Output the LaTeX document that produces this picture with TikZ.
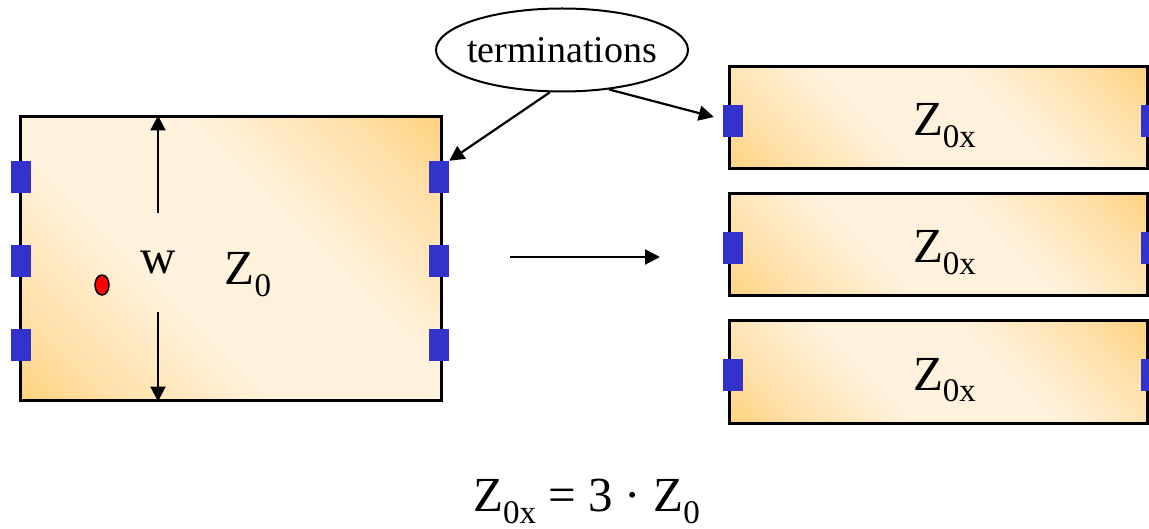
\documentclass[tikz,border=0pt]{standalone}
\usepackage{fontspec}
\setmainfont{Liberation Serif}
\usetikzlibrary{arrows.meta,shapes.geometric}
\definecolor{ColPad}{RGB}{51,51,204}
\definecolor{ColDark}{RGB}{255,204,105}
\definecolor{ColMid}{RGB}{255,224,168}
\definecolor{ColLight}{RGB}{255,242,220}
\definecolor{ColDot}{RGB}{255,0,0}
\pgfdeclareverticalshading{boardfill}{100bp}{color(0bp)=(ColDark); color(10bp)=(ColDark);
  color(24bp)=(ColMid); color(40bp)=(ColLight); color(60bp)=(ColLight);
  color(76bp)=(ColMid); color(90bp)=(ColDark); color(100bp)=(ColDark)}
\newcommand{\lowidx}[1]{\raisebox{-12pt}{\fontsize{33}{33}\selectfont #1}}

\begin{document}
\begin{tikzpicture}[
  x=1pt, y=-1pt,
  >={Triangle[length=15pt,width=15pt]},
  every node/.style={font=\fontsize{49}{49}\selectfont, inner sep=0pt},
  board/.style={draw, line width=3pt, rectangle, shading=boardfill, shading angle=-45},
  termpad/.style={fill=ColPad, minimum width=20pt, minimum height=32pt},
  lead/.style={->, line width=2.2pt}
]
  \useasboundingbox (0,0) rectangle (1149,529);

  % Wide line with its terminations
  \node[board, minimum width=421pt, minimum height=283pt] (big) at (230.5,258.5) {};
  \foreach \i/\yy in {1/177,2/261,3/345} {
    \node[termpad] (bl\i) at (21,\yy) {};
    \node[termpad] (br\i) at (439,\yy) {};
  }

  % Width marker
  \node[minimum height=99pt] (w) at (158,262.5) {w};
  \draw[lead] (w.north) -- (w.north |- big.north);
  \draw[lead] (w.south) -- (w.south |- big.south);

  \node[draw, fill=ColDot, ellipse, line width=1.5pt, minimum width=14pt,
    minimum height=20pt] (probe) at (102,285) {};
  \node[anchor=base] (zbig) at (248,285) {Z\lowidx{0}};

  % Three narrow lines
  \foreach \i/\yy in {1/118,2/245,3/372} {
    \node[board, minimum width=418pt, minimum height=102pt] (s\i) at (938,\yy) {};
    \node[termpad] (sl\i) at (733,\yy+3) {};
    \node[termpad] (sr\i) at (1151,\yy+3) {};
    \node[anchor=base] (zs\i) at (944.5,\yy+18) {Z\lowidx{0x}};
  }

  % Callout
  \node[draw, ellipse, line width=2pt, inner xsep=-6pt, minimum width=252pt,
    minimum height=83pt, font=\fontsize{38}{38}\selectfont] (ends) at (562,50) {terminations};
  \draw[lead] (ends.-106) -- (br1.north east);
  \draw[lead] (ends.-40) -- ([xshift=-9pt,yshift=4pt]sl1.west);

  % Split arrow
  \coordinate (gofrom) at (510,257);
  \coordinate (goto) at (660,257);
  \draw[lead] (gofrom) -- (goto);

  \node[anchor=base] (rule) at (586.5,511) {Z\lowidx{0x} = 3 · Z\lowidx{0}};
\end{tikzpicture}
\end{document}
